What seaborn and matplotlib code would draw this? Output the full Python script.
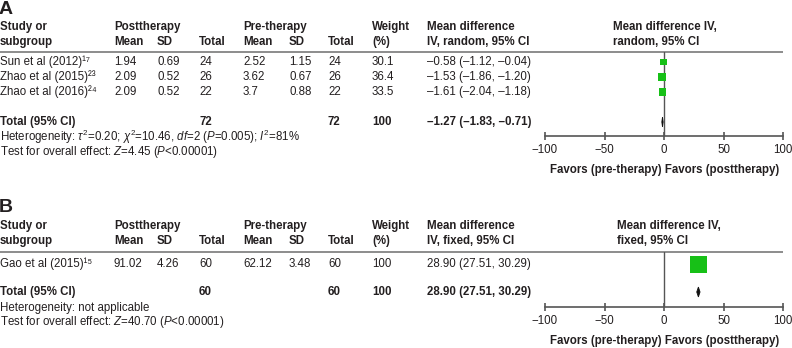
import matplotlib
matplotlib.use("Agg")
import matplotlib.pyplot as plt
import seaborn as sns
import pandas as pd
import numpy as np

sns.set_theme(style="white")
plt.rcParams['font.family'] = ['Liberation Sans', 'DejaVu Sans']
plt.rcParams['mathtext.fontset'] = 'custom'
plt.rcParams['mathtext.rm'] = 'Liberation Sans'
plt.rcParams['mathtext.it'] = 'Liberation Sans:italic'
plt.rcParams['mathtext.bf'] = 'Liberation Sans:bold'

# ---------------- data ----------------
studies_a = ["Sun et al (2012)\u00b9\u2077", "Zhao et al (2015)\u00b2\u00b3", "Zhao et al (2016)\u00b2\u2074"]
post_mean_a = [1.94, 2.09, 2.09]
post_sd_a = [0.69, 0.52, 0.52]
post_n_a = [24, 26, 22]
pre_mean_a = [2.52, 3.62, 3.7]
pre_sd_a = [1.15, 0.67, 0.88]
pre_n_a = [24, 26, 22]
weight_a = [30.1, 36.4, 33.5]
md_a = [-0.58, -1.53, -1.61]
lo_a = [-1.12, -1.86, -2.04]
hi_a = [-0.04, -1.20, -1.18]
total_a = [-1.27, -1.83, -0.71]
total_n_a = [72, 72]
het_a = r"Heterogeneity: $\tau^2$=0.20; $\chi^2$=10.46, $df$=2 ($P$=0.005); $I^2$=81%"
test_a = r"Test for overall effect: $Z$=4.45 ($P$<0.00001)"

studies_b = ["Gao et al (2015)\u00b9\u2075"]
post_mean_b = [91.02]
post_sd_b = [4.26]
post_n_b = [60]
pre_mean_b = [62.12]
pre_sd_b = [3.48]
pre_n_b = [60]
weight_b = [100]
md_b = [28.90]
lo_b = [27.51]
hi_b = [30.29]
total_b = [28.90, 27.51, 30.29]
total_n_b = [60, 60]
het_b = "Heterogeneity: not applicable"
test_b = r"Test for overall effect: $Z$=40.70 ($P$<0.00001)"

x_ticks = [-100, -50, 0, 50, 100]

GREEN = '#17c017'
TXT = '#231f20'
FS = 8.3

W, H = 792, 348
fig = plt.figure(figsize=(W / 100, H / 100), dpi=100)

# overlay axis in pixel coordinates for the table text
tx = fig.add_axes([0, 0, 1, 1])
tx.set_xlim(0, W)
tx.set_ylim(H, 0)
tx.axis('off')


def fmt_ci(m, l, h):
    s = f"{m:.2f} ({l:.2f}, {h:.2f})"
    return s.replace('-', '\u2013')


def panel(letter, y0, studies, pm, psd, pn, qm, qsd, qn, wt, md, lo, hi, tot, totn,
          het, test, model, row_y, tot_y, line_y, axis_y, hdr2_x, fav_y):
    # panel letter
    tx.text(-1, y0, letter, fontsize=14, fontweight='bold', va='center', ha='left', color=TXT)
    r1, r2 = y0 + 18, y0 + 33
    cols = [0, 114, 157, 199, 243, 289, 328, 372, 427]
    bold = dict(fontsize=FS, fontweight='bold', va='center', ha='left', color=TXT)
    tx.text(cols[0], r1, "Study or", **bold)
    tx.text(cols[0], r2, "subgroup", **bold)
    tx.text(cols[1], r1, "Posttherapy", **bold)
    tx.text(cols[1], r2, "Mean", **bold)
    tx.text(cols[2], r2, "SD", **bold)
    tx.text(cols[3], r2, "Total", **bold)
    tx.text(cols[4], r1, "Pre-therapy", **bold)
    tx.text(cols[4], r2, "Mean", **bold)
    tx.text(cols[5], r2, "SD", **bold)
    tx.text(cols[6], r2, "Total", **bold)
    tx.text(cols[7], r1, "Weight", **bold)
    tx.text(cols[7], r2, "(%)", **bold)
    tx.text(cols[8], r1, "Mean difference", **bold)
    tx.text(cols[8], r2, f"IV, {model}, 95% CI", **bold)
    tx.text(hdr2_x, r1, "Mean difference IV,", **bold)
    tx.text(hdr2_x, r2, f"{model}, 95% CI", **bold)
    tx.plot([0, 783], [line_y, line_y], color='#8c8c8c', lw=1.4, solid_capstyle='butt')

    reg = dict(fontsize=FS, va='center', ha='left', color=TXT)
    for i, s in enumerate(studies):
        y = row_y[i]
        vals = [s, str(pm[i]), str(psd[i]), str(pn[i]), str(qm[i]), str(qsd[i]), str(qn[i]),
                str(wt[i]), fmt_ci(md[i], lo[i], hi[i])]
        for c, v in zip(cols, vals):
            tx.text(c, y, v, **reg)
    tx.text(cols[0], tot_y, "Total (95% CI)", **bold)
    tx.text(cols[3], tot_y, str(totn[0]), **bold)
    tx.text(cols[6], tot_y, str(totn[1]), **bold)
    tx.text(cols[7], tot_y, "100", **bold)
    tx.text(cols[8], tot_y, fmt_ci(*tot), **bold)
    tx.text(0, tot_y + 14.5, het, fontsize=FS, va='baseline', ha='left', color=TXT,
            transform=tx.transData + matplotlib.transforms.ScaledTranslation(0, -4 / 100, fig.dpi_scale_trans))
    tx.text(0, tot_y + 30, test, **reg)
    tx.text(665, fav_y, "Favors (pre-therapy) Favors (posttherapy)", fontsize=FS,
            fontweight='bold', va='center', ha='center', color=TXT)

    # forest axes
    left, right = 545, 783
    ax = fig.add_axes([left / W, 1 - axis_y / H, (right - left) / W, (axis_y - line_y) / H])
    ax.set_facecolor('none')
    n = len(studies)
    step = row_y[1] - row_y[0] if n > 1 else tot_y - row_y[0]
    idx = list(range(n))
    tot_idx = (tot_y - row_y[0]) / step
    ax.set_ylim((axis_y - row_y[0]) / step, (line_y - row_y[0]) / step)
    ax.set_xlim(-100, 100)
    df = pd.DataFrame({"md": md, "row": idx, "weight": wt})
    ax.axvline(0, color='#555555', lw=1.0, zorder=1)
    for i in idx:
        ax.plot([lo[i], hi[i]], [i, i], color=TXT, lw=0.8, zorder=2)
    sizes = {w: ((2 + 0.15 * w) * 0.72) ** 2 for w in wt}
    sns.scatterplot(data=df, x="md", y="row", size="weight", sizes=sizes, marker='s',
                    color=GREEN, linewidth=0, legend=False, ax=ax, zorder=3)
    dh = 0.33 * 15 / step
    ax.fill([tot[1], tot[0], tot[2], tot[0]], [tot_idx, tot_idx - dh, tot_idx, tot_idx + dh],
            color='#111111', lw=0.6, edgecolor='#111111', zorder=3)
    for sp in ['top', 'left', 'right']:
        ax.spines[sp].set_visible(False)
    ax.spines['bottom'].set_color('#555555')
    ax.spines['bottom'].set_linewidth(1.2)
    ax.set_xticks(x_ticks)
    ax.set_yticks([])
    ax.tick_params(axis='x', direction='inout', length=6, width=1.2, color='#555555',
                   labelsize=FS, labelcolor=TXT, pad=3, bottom=True)
    ax.set_xlabel("")
    ax.set_ylabel("")


panel("A", 9, studies_a, post_mean_a, post_sd_a, post_n_a, pre_mean_a, pre_sd_a, pre_n_a,
      weight_a, md_a, lo_a, hi_a, total_a, total_n_a, het_a, test_a, "random",
      row_y=[62, 77, 92], tot_y=122, line_y=52, axis_y=136, hdr2_x=613, fav_y=170)
panel("B", 208, studies_b, post_mean_b, post_sd_b, post_n_b, pre_mean_b, pre_sd_b, pre_n_b,
      weight_b, md_b, lo_b, hi_b, total_b, total_n_b, het_b, test_b, "fixed",
      row_y=[264], tot_y=292, line_y=252, axis_y=307, hdr2_x=617, fav_y=341)

fig.savefig("out.png", dpi=100)
